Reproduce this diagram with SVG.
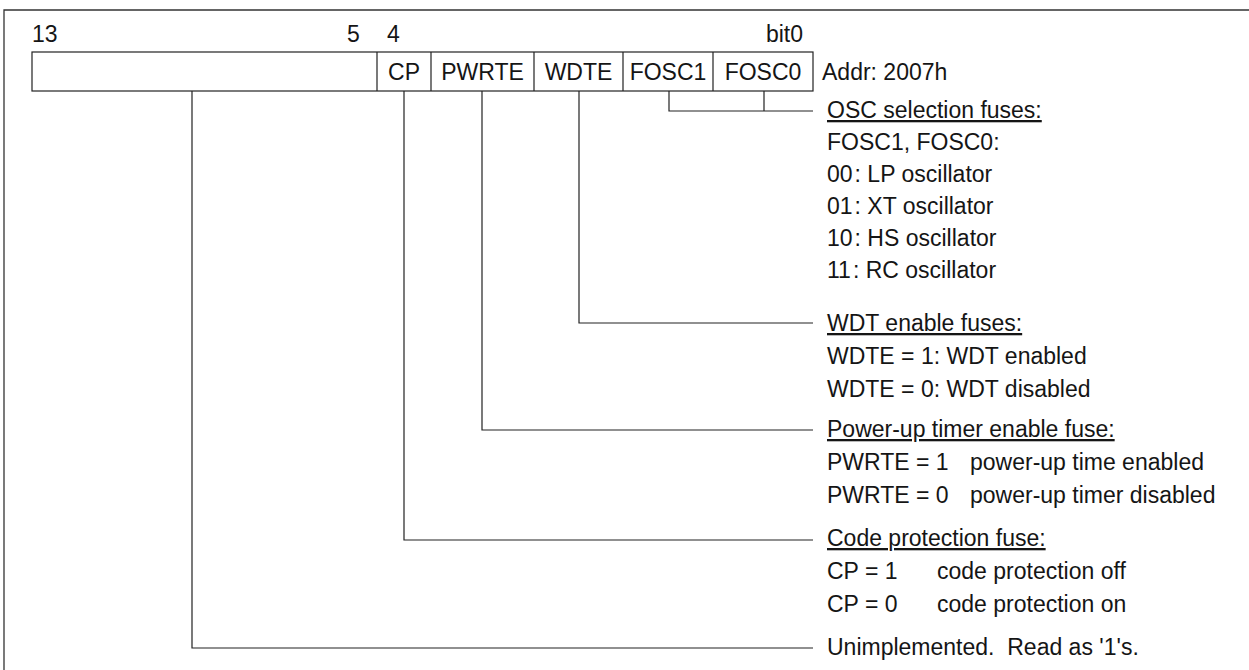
<svg xmlns="http://www.w3.org/2000/svg" width="1249" height="670" viewBox="0 0 1249 670">
<style>
text{font-family:"Liberation Sans",Arial,Helvetica,sans-serif;font-size:23px;fill:#151515}
.c{text-anchor:middle}
.e{text-anchor:end}
.u{text-decoration:underline}
.ln{fill:none;stroke:#222;stroke-width:1.2}
.fr{fill:none;stroke:#333;stroke-width:1.3}
</style>
<rect width="1249" height="670" fill="#fff"/>
<g id="frame"><path class="fr" d="M4,670 V10 H1249"/></g>
<g id="bit-labels">
<text x="32" y="42">13</text>
<text x="347" y="42">5</text>
<text x="387" y="42">4</text>
<text class="e" x="803" y="42">bit0</text>
</g>
<g id="register">
<rect class="ln" x="32" y="52" width="781" height="39"/>
<path class="ln" d="M377,52V91M431,52V91M534,52V91M623,52V91M713,52V91"/>
<text class="c" x="404" y="80">CP</text>
<text class="c" x="482.5" y="80">PWRTE</text>
<text class="c" x="578.5" y="80">WDTE</text>
<text class="c" x="668" y="80">FOSC1</text>
<text class="c" x="763" y="80">FOSC0</text>
<text x="822" y="80">Addr: 2007h</text>
</g>
<g id="connectors">
<path class="ln" d="M669,91V111H813M764,91V111"/>
<path class="ln" d="M579,91V323H813"/>
<path class="ln" d="M482,91V430H813"/>
<path class="ln" d="M404,91V540H813"/>
<path class="ln" d="M192,91V648H813"/>
</g>
<g id="osc-fuses">
<text class="u" x="827" y="118">OSC selection fuses:</text>
<text x="827" y="150">FOSC1, FOSC0:</text>
<text x="827" y="182">00<tspan dx="2">:</tspan> LP oscillator</text>
<text x="827" y="214">01<tspan dx="2">:</tspan> XT oscillator</text>
<text x="827" y="246">10<tspan dx="2">:</tspan> HS oscillator</text>
<text x="827" y="278">11<tspan dx="2">:</tspan> RC oscillator</text>
</g>
<g id="wdt-fuses">
<text class="u" x="827" y="331">WDT enable fuses:</text>
<text x="827" y="364">WDTE = 1: WDT enabled</text>
<text x="827" y="397">WDTE = 0: WDT disabled</text>
</g>
<g id="pwrt-fuse">
<text class="u" x="827" y="437">Power-up timer enable fuse:</text>
<text x="827" y="470">PWRTE = 1<tspan x="970">power-up time enabled</tspan></text>
<text x="827" y="503">PWRTE = 0<tspan x="970">power-up timer disabled</tspan></text>
</g>
<g id="cp-fuse">
<text class="u" x="827" y="546">Code protection fuse:</text>
<text x="827" y="579">CP = 1<tspan x="937">code protection off</tspan></text>
<text x="827" y="612">CP = 0<tspan x="937">code protection on</tspan></text>
</g>
<g id="unimplemented">
<text x="827" y="655" xml:space="preserve">Unimplemented.  Read as '1's.</text>
</g>
</svg>
